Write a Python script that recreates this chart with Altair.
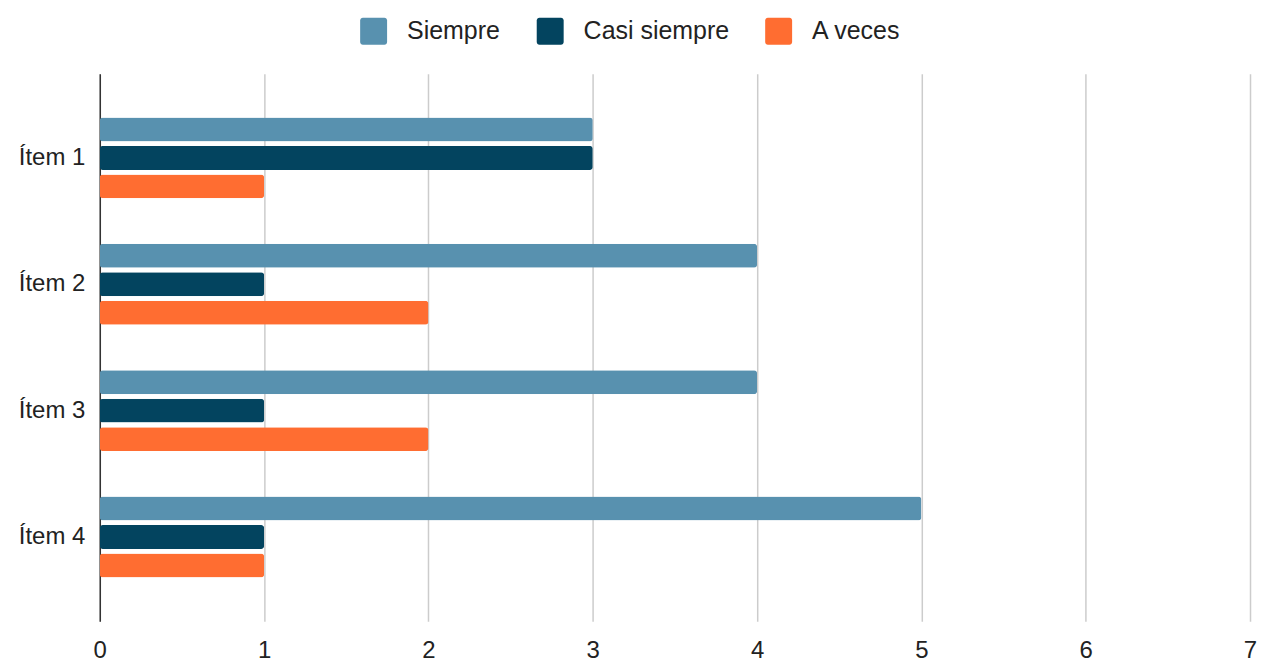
import altair as alt
import pandas as pd

items = ["Ítem 1", "Ítem 2", "Ítem 3", "Ítem 4"]
series = ["Siempre", "Casi siempre", "A veces"]
siempre = [3, 4, 4, 5]
casi_siempre = [3, 1, 1, 1]
a_veces = [1, 2, 2, 1]
colors = ["#5891AF", "#03445F", "#FF6D31"]
x_ticks = [0, 1, 2, 3, 4, 5, 6, 7]

rows = []
for i, it in enumerate(items):
    for s, vals in zip(series, [siempre, casi_siempre, a_veces]):
        rows.append({"item": it, "serie": s, "valor": vals[i]})
df = pd.DataFrame(rows)

rounded = ("M -0.8 -1 H 0.8 A 0.2 0.2 0 0 1 1 -0.8 V 0.8 A 0.2 0.2 0 0 1 0.8 1 "
           "H -0.8 A 0.2 0.2 0 0 1 -1 0.8 V -0.8 A 0.2 0.2 0 0 1 -0.8 -1 Z")

chart = alt.Chart(df).mark_bar(cornerRadius=3).encode(
    y=alt.Y("item:N", sort=items, title=None,
            scale=alt.Scale(paddingInner=0.36, paddingOuter=0.347),
            axis=alt.Axis(ticks=False, domain=True, domainColor="#333333", domainWidth=1.5,
                          labelFontSize=24, labelColor="#222222", labelPadding=15,
                          labelFont="Liberation Sans", grid=False)),
    yOffset=alt.YOffset("serie:N", sort=series,
                        scale=alt.Scale(paddingInner=0.16, paddingOuter=0)),
    x=alt.X("valor:Q", title=None,
            scale=alt.Scale(domain=[0, 7], nice=False),
            axis=alt.Axis(values=x_ticks, ticks=False, domain=False, grid=True,
                          gridColor="#cccccc", gridWidth=1.5, labelFlush=False,
                          labelFontSize=24, labelColor="#222222", labelPadding=17,
                          labelFont="Liberation Sans", format="d")),
    color=alt.Color("serie:N", sort=series,
                    scale=alt.Scale(domain=series, range=colors),
                    legend=alt.Legend(title=None, orient="none", direction="horizontal",
                                      legendX=261, legendY=-56, padding=0,
                                      symbolType=rounded, symbolSize=729,
                                      symbolStrokeWidth=0, symbolOpacity=1,
                                      labelFontSize=25, labelFont="Liberation Sans",
                                      labelColor="#222222", labelOffset=20,
                                      columnPadding=36)),
).properties(
    width=1153, height=549,
    autosize=alt.AutoSizeParams(type="none"),
    padding={"left": 92, "top": 65, "right": 7, "bottom": 46},
).configure_view(stroke=None)

chart.save("out.html", embed_options={"renderer": "svg", "actions": False})
